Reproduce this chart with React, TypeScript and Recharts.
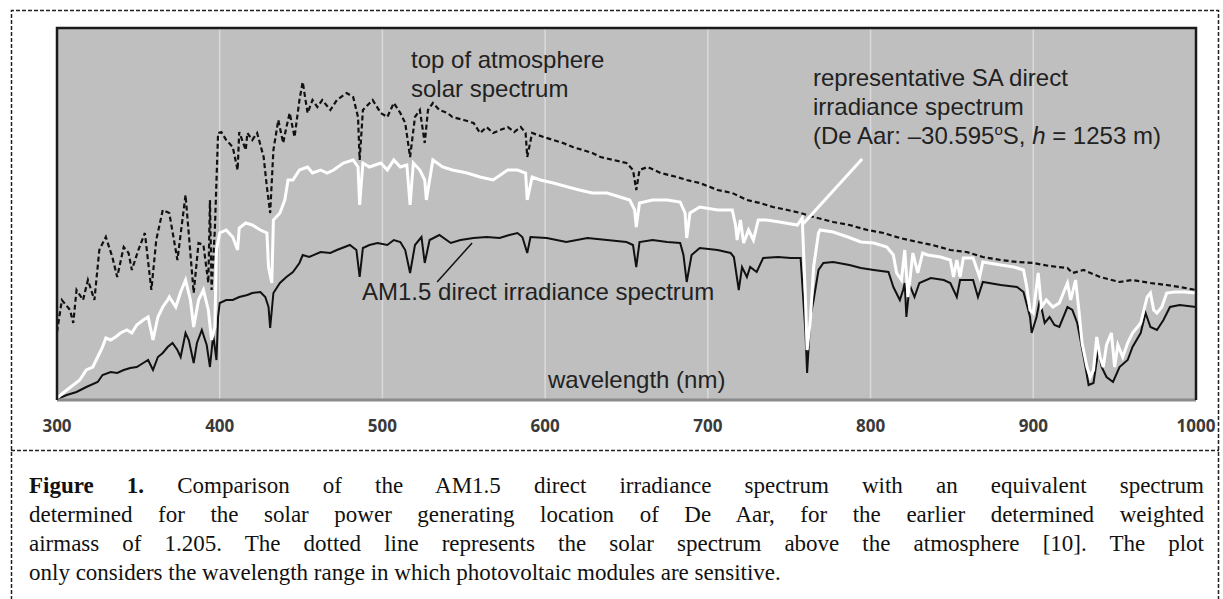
import { LineChart, Line, XAxis, YAxis, CartesianGrid, ReferenceLine } from "recharts";

// wavelength (nm) and relative irradiance
const toaWl = [300, 303, 308, 310, 312, 316, 319, 323, 326, 330, 334, 337, 341, 344, 346, 350, 354, 358, 361, 365, 369, 374, 379, 384, 387, 390, 393, 394, 395, 397, 399, 401, 404, 408, 411, 412, 416, 417, 420, 423, 427, 429, 431, 433, 436, 439, 441, 443, 446, 449, 451, 454, 457, 460, 463, 468, 472, 478, 482, 485, 486, 488, 494, 499, 503, 507, 511, 514, 517, 520, 523, 526, 528, 531, 535, 540, 543, 550, 556, 560, 564, 568, 577, 581, 585, 588, 589, 592, 599, 605, 611, 617, 623, 629, 634, 642, 650, 654, 656, 658, 663, 671, 681, 687, 695, 706, 715, 724, 732, 740, 749, 757, 765, 777, 787, 798, 808, 818, 829, 838, 849, 859, 869, 880, 890, 900, 910, 921, 924, 931, 941, 953, 961, 972, 982, 990, 1000];
const toaVal = [0.34, 0.5, 0.45, 0.385, 0.55, 0.5, 0.6, 0.5, 0.75, 0.815, 0.715, 0.615, 0.765, 0.735, 0.65, 0.75, 0.835, 0.55, 0.8, 0.95, 0.935, 0.7, 1.025, 0.535, 0.785, 0.775, 0.585, 1.0, 0.55, 0.85, 1.335, 1.34, 1.3, 1.265, 1.15, 1.34, 1.25, 1.335, 1.3, 1.335, 1.215, 1.065, 0.935, 1.25, 1.4, 1.285, 1.365, 1.435, 1.315, 1.5, 1.59, 1.435, 1.5, 1.465, 1.5, 1.45, 1.5, 1.535, 1.515, 1.415, 1.2, 1.45, 1.5, 1.435, 1.415, 1.485, 1.435, 1.385, 1.215, 1.415, 1.45, 1.285, 1.45, 1.485, 1.45, 1.435, 1.415, 1.4, 1.385, 1.335, 1.365, 1.335, 1.365, 1.34, 1.365, 1.335, 1.215, 1.335, 1.315, 1.3, 1.285, 1.265, 1.25, 1.235, 1.215, 1.2, 1.185, 1.15, 1.05, 1.15, 1.165, 1.135, 1.115, 1.1, 1.085, 1.05, 1.035, 1.0, 0.985, 0.965, 0.95, 0.935, 0.915, 0.89, 0.875, 0.85, 0.835, 0.81, 0.79, 0.775, 0.75, 0.74, 0.715, 0.7, 0.69, 0.685, 0.67, 0.66, 0.635, 0.65, 0.615, 0.59, 0.6, 0.585, 0.575, 0.565, 0.55];

const saWl = [300, 306, 314, 318, 322, 325, 328, 330, 333, 336, 339, 343, 346, 349, 353, 356, 359, 362, 365, 368, 369, 373, 376, 379, 382, 384, 387, 390, 393, 395, 397, 398, 400, 404, 408, 411, 412, 416, 420, 425, 429, 430, 432, 433, 437, 440, 442, 445, 449, 454, 457, 462, 466, 470, 476, 482, 485, 486, 488, 492, 499, 503, 507, 511, 515, 517, 519, 523, 526, 527, 531, 537, 543, 552, 560, 568, 577, 583, 588, 589, 592, 597, 605, 614, 621, 629, 638, 646, 652, 655, 656, 658, 666, 675, 683, 686, 687, 689, 695, 706, 715, 717, 718, 720, 722, 725, 728, 731, 736, 744, 755, 758, 760, 761, 763, 765, 768, 769, 777, 786, 794, 802, 810, 814, 816, 819, 821, 823, 826, 829, 832, 835, 843, 849, 851, 853, 855, 857, 863, 867, 869, 880, 888, 894, 896, 898, 900, 903, 905, 908, 912, 916, 921, 923, 926, 928, 930, 933, 935, 937, 939, 941, 943, 945, 948, 950, 952, 955, 958, 961, 966, 970, 972, 974, 976, 979, 982, 987, 993, 1000];
const saVal = [0.01, 0.05, 0.1, 0.15, 0.165, 0.215, 0.265, 0.31, 0.3, 0.315, 0.335, 0.35, 0.335, 0.375, 0.4, 0.415, 0.3, 0.415, 0.465, 0.5, 0.515, 0.465, 0.54, 0.6, 0.5, 0.365, 0.5, 0.55, 0.45, 0.3, 0.365, 0.75, 0.835, 0.85, 0.815, 0.75, 0.86, 0.885, 0.875, 0.85, 0.835, 0.665, 0.585, 0.9, 0.935, 1.0, 1.1, 1.1, 1.15, 1.165, 1.135, 1.15, 1.135, 1.15, 1.185, 1.2, 1.165, 0.975, 1.185, 1.165, 1.185, 1.15, 1.2, 1.165, 1.175, 0.975, 1.185, 1.15, 1.1, 1.0, 1.2, 1.165, 1.15, 1.135, 1.115, 1.1, 1.15, 1.15, 1.135, 1.0, 1.115, 1.1, 1.085, 1.065, 1.05, 1.035, 1.035, 1.015, 1.0, 0.95, 0.865, 0.985, 1.0, 1.0, 0.99, 0.935, 0.81, 0.935, 0.965, 0.95, 0.95, 0.875, 0.8, 0.9, 0.785, 0.85, 0.8, 0.9, 0.9, 0.89, 0.875, 0.91, 0.5, 0.25, 0.4, 0.665, 0.835, 0.85, 0.84, 0.815, 0.79, 0.785, 0.765, 0.725, 0.635, 0.6, 0.75, 0.515, 0.735, 0.635, 0.735, 0.725, 0.715, 0.7, 0.615, 0.7, 0.615, 0.71, 0.71, 0.615, 0.69, 0.675, 0.665, 0.65, 0.565, 0.45, 0.435, 0.635, 0.465, 0.5, 0.465, 0.485, 0.585, 0.5, 0.6, 0.45, 0.285, 0.165, 0.115, 0.15, 0.315, 0.215, 0.165, 0.275, 0.335, 0.165, 0.275, 0.215, 0.285, 0.335, 0.385, 0.515, 0.535, 0.45, 0.435, 0.465, 0.535, 0.54, 0.54, 0.535];

const amWl = [300, 306, 312, 318, 325, 328, 333, 337, 341, 345, 349, 353, 356, 359, 362, 365, 368, 371, 374, 376, 379, 381, 384, 386, 389, 392, 394, 396, 398, 399, 400, 404, 408, 412, 417, 420, 425, 428, 430, 431, 433, 437, 441, 445, 449, 451, 455, 462, 468, 472, 480, 484, 486, 488, 492, 497, 503, 507, 511, 514, 517, 520, 524, 526, 529, 535, 542, 548, 556, 564, 572, 578, 583, 586, 589, 591, 601, 613, 626, 638, 650, 654, 656, 658, 666, 675, 683, 685, 687, 690, 695, 706, 714, 716, 719, 721, 724, 726, 730, 734, 743, 751, 757, 760, 761, 763, 765, 768, 771, 777, 787, 794, 802, 811, 814, 818, 820, 821, 822, 824, 827, 830, 837, 845, 849, 853, 855, 863, 866, 869, 880, 890, 894, 898, 899, 902, 904, 907, 910, 913, 916, 921, 924, 927, 931, 934, 937, 940, 942, 945, 949, 953, 958, 961, 966, 969, 972, 976, 980, 984, 990, 1000];
const amVal = [0.005, 0.025, 0.04, 0.065, 0.09, 0.125, 0.14, 0.135, 0.15, 0.16, 0.165, 0.185, 0.2, 0.15, 0.215, 0.235, 0.265, 0.285, 0.25, 0.215, 0.335, 0.3, 0.185, 0.285, 0.35, 0.275, 0.165, 0.325, 0.2, 0.415, 0.485, 0.5, 0.5, 0.515, 0.525, 0.535, 0.54, 0.515, 0.465, 0.36, 0.535, 0.585, 0.615, 0.64, 0.685, 0.725, 0.715, 0.74, 0.735, 0.75, 0.775, 0.75, 0.615, 0.76, 0.775, 0.785, 0.775, 0.8, 0.79, 0.75, 0.635, 0.775, 0.815, 0.685, 0.8, 0.825, 0.785, 0.8, 0.81, 0.815, 0.81, 0.825, 0.835, 0.815, 0.735, 0.815, 0.81, 0.79, 0.81, 0.8, 0.79, 0.775, 0.665, 0.79, 0.8, 0.79, 0.785, 0.725, 0.59, 0.725, 0.76, 0.75, 0.735, 0.715, 0.55, 0.665, 0.615, 0.665, 0.64, 0.71, 0.715, 0.71, 0.71, 0.335, 0.135, 0.415, 0.5, 0.65, 0.685, 0.69, 0.675, 0.66, 0.65, 0.64, 0.565, 0.5, 0.55, 0.585, 0.415, 0.575, 0.515, 0.585, 0.61, 0.6, 0.585, 0.515, 0.6, 0.6, 0.515, 0.59, 0.575, 0.565, 0.54, 0.415, 0.335, 0.415, 0.5, 0.385, 0.415, 0.375, 0.365, 0.465, 0.45, 0.385, 0.215, 0.075, 0.085, 0.25, 0.165, 0.115, 0.09, 0.165, 0.2, 0.265, 0.335, 0.435, 0.365, 0.35, 0.4, 0.465, 0.475, 0.465];

const xTicks = [300, 400, 500, 600, 700, 800, 900, 1000];

const toTable = (wl: number[], val: number[]) => wl.map((w, i) => ({ wl: w, v: val[i] }));

const toaData = toTable(toaWl, toaVal);
const saData = toTable(saWl, saVal);
const amData = toTable(amWl, amVal);

const labelFont = "'Liberation Sans', Arial, sans-serif";

export default function App() {
  return (
    <div style={{ position: "absolute", left: 0, top: 0, width: 1223, height: 599, overflow: "hidden", background: "#fff" }}>
      <LineChart width={1223} height={450} margin={{ top: 28, right: 27, bottom: 20, left: 57 }}>
        <CartesianGrid horizontal={false} fill="#bfbfbf" fillOpacity={1} stroke="#dadada" strokeWidth={1.5} />
        <XAxis
          dataKey="wl"
          type="number"
          domain={[300, 1000]}
          ticks={xTicks}
          interval={0}
          height={30}
          tickLine={false}
          tickSize={0}
          tickMargin={20}
          axisLine={{ stroke: "#8a8a8a", strokeWidth: 3 }}
          tick={{ fill: "#3a3a3a", fontSize: 17, fontWeight: 700, fontFamily: "'Open Sans', sans-serif" }}
          allowDuplicatedCategory={false}
        />
        <YAxis hide type="number" domain={[0, 1.86]} />
        <Line data={amData} dataKey="v" type="linear" stroke="#111" strokeWidth={2} dot={false} isAnimationActive={false} />
        <Line data={saData} dataKey="v" type="linear" stroke="#fff" strokeWidth={3} dot={false} isAnimationActive={false} />
        <Line data={toaData} dataKey="v" type="linear" stroke="#111" strokeWidth={2.2} strokeDasharray="5 3" dot={false} isAnimationActive={false} />
        <ReferenceLine segment={[{ x: 533.6, y: 0.59 }, { x: 555.1, y: 0.785 }]} stroke="#111" strokeWidth={1.5} />
        <ReferenceLine segment={[{ x: 794.8, y: 1.205 }, { x: 757.9, y: 0.875 }]} stroke="#fff" strokeWidth={3} />
      </LineChart>

      <svg width={1223} height={599} style={{ position: "absolute", left: 0, top: 0, pointerEvents: "none" }}>
        {/* plot frame */}
        <path d="M57 400 L57 28 L1196 28 L1196 400" fill="none" stroke="#1a1a1a" strokeWidth={2.5} />
        {/* dashed figure box */}
        <path d="M11.5 600 L11.5 10.5 L1218.5 10.5 L1218.5 600" fill="none" stroke="#222" strokeWidth={1.5} strokeDasharray="4 2" />
        <line x1={11} y1={450.5} x2={1219} y2={450.5} stroke="#222" strokeWidth={1.5} strokeDasharray="4 2" />

        <g fontFamily={labelFont} fontSize={24} fill="#222">
          <text x={411} y={68}>top of atmosphere</text>
          <text x={411} y={97}>solar spectrum</text>
          <text x={813} y={86}>representative SA direct</text>
          <text x={813} y={115}>irradiance spectrum</text>
          <text x={813} y={144}>
            (De Aar: –30.595<tspan fontSize={15} dy={-9}>o</tspan>
            <tspan dy={9}>S, </tspan>
            <tspan fontStyle="italic">h</tspan> = 1253 m)
          </text>
          <text x={362} y={300}>AM1.5 direct irradiance spectrum</text>
          <text x={548} y={388}>wavelength (nm)</text>
        </g>
      </svg>

      <div
        style={{
          position: "absolute",
          left: 29,
          top: 471,
          width: 1175,
          fontFamily: "'Liberation Serif', 'Times New Roman', serif",
          fontSize: 23,
          lineHeight: "29px",
          color: "#111",
        }}
      >
        {[
          <>
            <b>Figure 1.</b> Comparison of the AM1.5 direct irradiance spectrum with an equivalent spectrum
          </>,
          <>determined for the solar power generating location of De Aar, for the earlier determined weighted</>,
          <>airmass of 1.205. The dotted line represents the solar spectrum above the atmosphere [10]. The plot</>,
        ].map((line, i) => (
          <div key={i} style={{ textAlign: "justify", textAlignLast: "justify", whiteSpace: "nowrap" }}>
            {line}
          </div>
        ))}
        <div>only considers the wavelength range in which photovoltaic modules are sensitive.</div>
      </div>
    </div>
  );
}
